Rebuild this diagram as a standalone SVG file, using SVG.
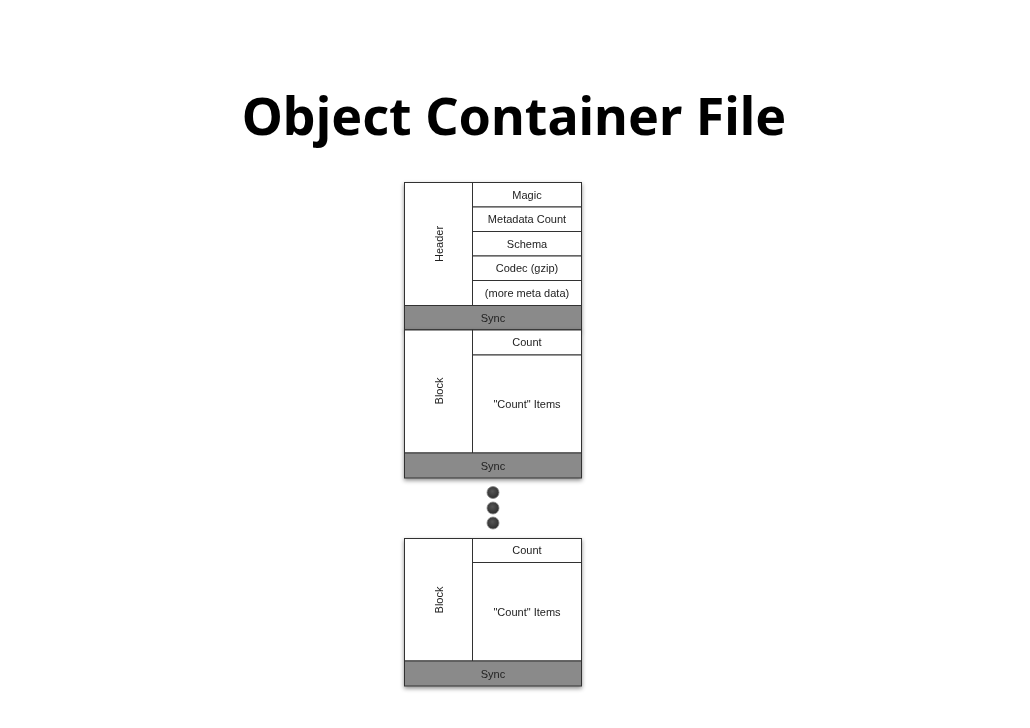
<svg xmlns="http://www.w3.org/2000/svg" width="1030" height="728" viewBox="0 0 1030 728">
<defs>
<filter id="sh" x="-10%" y="-10%" width="120%" height="120%">
<feDropShadow dx="0" dy="2" stdDeviation="2" flood-color="#000" flood-opacity="0.45"/>
</filter>
<radialGradient id="dot" cx="0.45" cy="0.4" r="0.65">
<stop offset="0" stop-color="#555"/>
<stop offset="1" stop-color="#2a2a2a"/>
</radialGradient>
</defs>
<style>
.cell{fill:#fff;stroke:#333;stroke-width:1}
.sync{fill:#8a8a8a;stroke:#333;stroke-width:1}
.t{font-family:"Liberation Sans",Arial,sans-serif;font-size:11px;fill:#222;text-anchor:middle;dominant-baseline:central}
.title{font-family:"Noto Sans","Open Sans",sans-serif;font-weight:bold;font-size:52px;fill:#000;text-anchor:middle}
.d{fill:url(#dot);stroke:#888;stroke-width:0.8}
</style>
<rect width="1030" height="728" fill="#fff"/>
<text class="title" x="514" y="135">Object Container File</text>

<g id="file-header" filter="url(#sh)">
<rect class="cell" x="404.5" y="182.5" width="177" height="123"/>
<rect class="cell" x="404.5" y="182.5" width="68" height="123"/>
<rect class="cell" x="472.5" y="182.5" width="109" height="24.5"/>
<rect class="cell" x="472.5" y="207" width="109" height="24.5"/>
<rect class="cell" x="472.5" y="231.5" width="109" height="24.5"/>
<rect class="cell" x="472.5" y="256" width="109" height="24.5"/>
<rect class="cell" x="472.5" y="280.5" width="109" height="25"/>
<rect class="sync" x="404.5" y="305.5" width="177" height="24.5"/>
<text class="t" x="527" y="194.5">Magic</text>
<text class="t" x="527" y="219">Metadata Count</text>
<text class="t" x="527" y="243.5">Schema</text>
<text class="t" x="527" y="268">Codec (gzip)</text>
<text class="t" x="527" y="293">(more meta data)</text>
<text class="t" x="493" y="318">Sync</text>
<text class="t" transform="translate(438.5 244) rotate(-90)">Header</text>
</g>

<g id="block-1" filter="url(#sh)">
<rect class="cell" x="404.5" y="330" width="177" height="123"/>
<rect class="cell" x="404.5" y="330" width="68" height="123"/>
<rect class="cell" x="472.5" y="330" width="109" height="25"/>
<rect class="cell" x="472.5" y="355" width="109" height="98"/>
<rect class="sync" x="404.5" y="453" width="177" height="25"/>
<text class="t" x="527" y="342">Count</text>
<text class="t" x="527" y="404">"Count" Items</text>
<text class="t" x="493" y="465.5">Sync</text>
<text class="t" transform="translate(438.5 391) rotate(-90)">Block</text>
</g>

<g id="ellipsis">
<circle class="d" cx="493" cy="492.5" r="6"/>
<circle class="d" cx="493" cy="508" r="6"/>
<circle class="d" cx="493" cy="523" r="6"/>
</g>

<g id="block-n" filter="url(#sh)">
<rect class="cell" x="404.5" y="538.5" width="177" height="122.5"/>
<rect class="cell" x="404.5" y="538.5" width="68" height="122.5"/>
<rect class="cell" x="472.5" y="538.5" width="109" height="24"/>
<rect class="cell" x="472.5" y="562.5" width="109" height="98.5"/>
<rect class="sync" x="404.5" y="661" width="177" height="25"/>
<text class="t" x="527" y="550">Count</text>
<text class="t" x="527" y="612">"Count" Items</text>
<text class="t" x="493" y="673.5">Sync</text>
<text class="t" transform="translate(438.5 600) rotate(-90)">Block</text>
</g>
<g id="connectors"/>
</svg>
